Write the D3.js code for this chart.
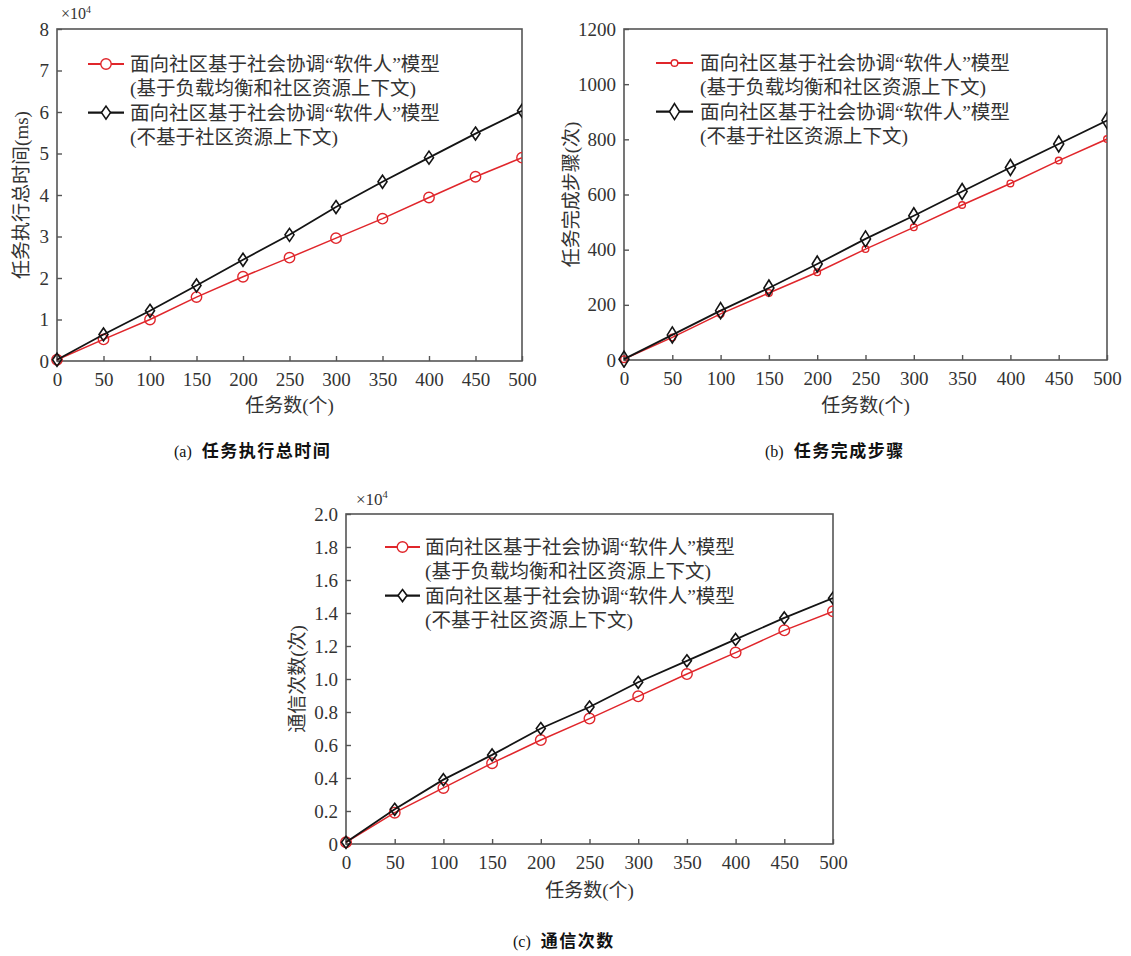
<!DOCTYPE html>
<html>
<head>
<meta charset="utf-8">
<script src="https://cdn.jsdelivr.net/npm/d3@7"></script>
<style>
  html, body { margin: 0; padding: 0; background: #fff; }
  svg { display: block; }
</style>
</head>
<body>
<svg id="chart" width="1131" height="956"></svg>
<script>
// ---------------- data ----------------
const tasks = [0, 50, 100, 150, 200, 250, 300, 350, 400, 450, 500];

// (a) total execution time, unit ×10^4 ms
const timeBalanced = [0.03, 0.52, 1.00, 1.54, 2.03, 2.49, 2.96, 3.43, 3.94, 4.44, 4.90];
const timeNoContext = [0.03, 0.64, 1.21, 1.82, 2.44, 3.04, 3.71, 4.32, 4.90, 5.48, 6.03];

// (b) task completion steps
const stepsBalanced = [3, 82, 167, 243, 318, 402, 481, 562, 640, 723, 801];
const stepsNoContext = [3, 91, 179, 261, 348, 439, 523, 611, 698, 783, 868];

// (c) number of communications, unit ×10^4
const commBalanced = [0.01, 0.19, 0.34, 0.49, 0.63, 0.76, 0.895, 1.03, 1.16, 1.295, 1.41];
const commNoContext = [0.01, 0.21, 0.39, 0.54, 0.70, 0.83, 0.98, 1.11, 1.24, 1.37, 1.49];

const xTicks = [0, 50, 100, 150, 200, 250, 300, 350, 400, 450, 500];
const yTicksA = [0, 1, 2, 3, 4, 5, 6, 7, 8];
const yTicksB = [0, 200, 400, 600, 800, 1000, 1200];
const yTicksC = [0, 0.2, 0.4, 0.6, 0.8, 1.0, 1.2, 1.4, 1.6, 1.8, 2.0];

const legendLabels = [
  ["面向社区基于社会协调“软件人”模型", "(基于负载均衡和社区资源上下文)"],
  ["面向社区基于社会协调“软件人”模型", "(不基于社区资源上下文)"]
];
const xTitle = "任务数(个)";
const yTitles = ["任务执行总时间(ms)", "任务完成步骤(次)", "通信次数(次)"];
const captions = [["(a)", "任务执行总时间"], ["(b)", "任务完成步骤"], ["(c)", "通信次数"]];

// ---------------- drawing ----------------
const svg = d3.select("#chart");
const RED = "#e0262b";
const BLACK = "#141414";
const AXIS = "#555";
const TEXT = "#333";
const SERIF = "'Liberation Serif', 'Times New Roman', 'Noto Sans CJK SC', serif";
const CJK = "'Liberation Serif', 'Noto Sans CJK SC', sans-serif";

function diamondPath(w, h) {
  return `M0,${-h}L${w},0L0,${h}L${-w},0Z`;
}

function panel(cfg) {
  const g = svg.append("g");
  const x = d3.scaleLinear().domain([0, 500]).range([cfg.left, cfg.right]);
  const y = d3.scaleLinear().domain([0, cfg.yMax]).range([cfg.bottom, cfg.top]);

  // frame
  g.append("rect")
    .attr("x", cfg.left).attr("y", cfg.top)
    .attr("width", cfg.right - cfg.left).attr("height", cfg.bottom - cfg.top)
    .attr("fill", "none").attr("stroke", AXIS).attr("stroke-width", 1.6);

  // x axis
  const xa = g.append("g").attr("transform", `translate(0,${cfg.bottom})`)
    .call(d3.axisBottom(x).tickValues(xTicks).tickSizeInner(-5).tickSizeOuter(0).tickPadding(12).tickFormat(d3.format("d")));
  // y axis
  const ya = g.append("g").attr("transform", `translate(${cfg.left},0)`)
    .call(d3.axisLeft(y).tickValues(cfg.yTicks).tickSizeInner(-5).tickSizeOuter(0).tickPadding(8).tickFormat(cfg.yFmt));
  [xa, ya].forEach(a => {
    a.select(".domain").remove();
    a.selectAll(".tick line").attr("stroke", AXIS).attr("stroke-width", 1.4);
    a.selectAll(".tick text").attr("fill", TEXT).style("font-family", SERIF).style("font-size", "19px");
  });

  // ×10^4 multiplier
  if (cfg.mult) {
    const t = g.append("text").attr("x", cfg.mult.x).attr("y", cfg.mult.y)
      .attr("fill", TEXT).style("font-family", SERIF).style("font-size", cfg.mult.size + "px");
    t.append("tspan").text("×10");
    t.append("tspan").attr("dy", -cfg.mult.size * 0.4).style("font-size", (cfg.mult.size * 0.62) + "px").text("4");
  }

  // lines
  const line = d3.line().x((d, i) => x(tasks[i])).y(d => y(d));
  const clip = "clip" + cfg.id;
  svg.append("clipPath").attr("id", clip).append("rect")
    .attr("x", cfg.left - 8).attr("y", cfg.top).attr("width", cfg.right - cfg.left + 8).attr("height", cfg.bottom - cfg.top + 8);
  const pg = g.append("g").attr("clip-path", `url(#${clip})`);

  pg.append("path").datum(cfg.red).attr("d", line)
    .attr("fill", "none").attr("stroke", RED).attr("stroke-width", 1.5);
  pg.selectAll(".rc").data(cfg.red).join("circle")
    .attr("cx", (d, i) => x(tasks[i])).attr("cy", d => y(d)).attr("r", cfg.circleR)
    .attr("fill", "none").attr("stroke", RED).attr("stroke-width", 1.4);

  pg.append("path").datum(cfg.black).attr("d", line)
    .attr("fill", "none").attr("stroke", BLACK).attr("stroke-width", 1.8);
  pg.selectAll(".bd").data(cfg.black).join("path")
    .attr("transform", (d, i) => `translate(${x(tasks[i])},${y(d)})`)
    .attr("d", diamondPath(cfg.dw, cfg.dh))
    .attr("fill", "none").attr("stroke", BLACK).attr("stroke-width", 1.6);

  // legend
  const L = cfg.legend;
  const rows = [
    { color: RED, sw: 2, type: "c", y: L.y0 },
    { color: BLACK, sw: 2.2, type: "d", y: L.y0 + 2 * L.dy }
  ];
  rows.forEach((r, k) => {
    g.append("line").attr("x1", L.x1).attr("x2", L.x2).attr("y1", r.y).attr("y2", r.y)
      .attr("stroke", r.color).attr("stroke-width", r.sw);
    const mx = (L.x1 + L.x2) / 2;
    if (r.type === "c") {
      g.append("circle").attr("cx", mx).attr("cy", r.y).attr("r", cfg.circleR)
        .attr("fill", "#fff").attr("stroke", RED).attr("stroke-width", 1.4);
    } else {
      g.append("path").attr("transform", `translate(${mx},${r.y})`).attr("d", diamondPath(cfg.dw, cfg.dh))
        .attr("fill", "#fff").attr("stroke", BLACK).attr("stroke-width", 1.6);
    }
    legendLabels[k].forEach((s, j) => {
      g.append("text").attr("x", L.tx).attr("y", r.y + j * L.dy).attr("dy", "0.36em")
        .attr("fill", TEXT).style("font-family", CJK).style("font-size", L.size + "px").text(s);
    });
  });

  // axis titles
  g.append("text").attr("x", (cfg.left + cfg.right) / 2).attr("y", cfg.xTitleY).attr("dy", "0.36em")
    .attr("text-anchor", "middle").attr("fill", TEXT)
    .style("font-family", CJK).style("font-size", "19px").text(xTitle);
  g.append("text").attr("transform", `translate(${cfg.yTitleX},${(cfg.top + cfg.bottom) / 2}) rotate(-90)`)
    .attr("dy", "0.36em").attr("text-anchor", "middle").attr("fill", TEXT)
    .style("font-family", CJK).style("font-size", "19px").text(yTitles[cfg.id]);

  // caption
  const c = svg.append("text").attr("x", cfg.cap.x).attr("y", cfg.cap.y).attr("dy", "0.36em").attr("fill", "#111");
  c.append("tspan").style("font-family", SERIF).style("font-size", "16px").text(captions[cfg.id][0]);
  c.append("tspan").attr("dx", 10).style("font-family", "'Noto Sans CJK SC', sans-serif")
    .style("font-size", "17px").style("font-weight", "bold").style("letter-spacing", "1.5px").text(captions[cfg.id][1]);
}

panel({
  id: 0, left: 57, right: 522, top: 29, bottom: 361, yMax: 8, yTicks: yTicksA, yFmt: d3.format("d"),
  red: timeBalanced, black: timeNoContext, circleR: 5.2, dw: 4.5, dh: 6.5,
  mult: { x: 61, y: 19, size: 16 },
  legend: { x1: 88, x2: 124, tx: 130, y0: 64, dy: 24.3, size: 19.5 },
  xTitleY: 405, yTitleX: 21, cap: { x: 174, y: 451 }
});
panel({
  id: 1, left: 624, right: 1107, top: 29, bottom: 360, yMax: 1200, yTicks: yTicksB, yFmt: d3.format("d"),
  red: stepsBalanced, black: stepsNoContext, circleR: 3.3, dw: 5, dh: 8,
  mult: null,
  legend: { x1: 656, x2: 693, tx: 700, y0: 63, dy: 24.3, size: 19.5 },
  xTitleY: 405, yTitleX: 571, cap: { x: 765, y: 451 }
});
panel({
  id: 2, left: 346, right: 833, top: 514, bottom: 844, yMax: 2.0, yTicks: yTicksC,
  yFmt: d => d === 0 ? "0" : d3.format(".1f")(d),
  red: commBalanced, black: commNoContext, circleR: 5.3, dw: 4.5, dh: 6,
  mult: { x: 356, y: 505, size: 17 },
  legend: { x1: 385, x2: 420, tx: 425, y0: 547, dy: 24.3, size: 19.5 },
  xTitleY: 890, yTitleX: 297, cap: { x: 513, y: 941 }
});
</script>
</body>
</html>
